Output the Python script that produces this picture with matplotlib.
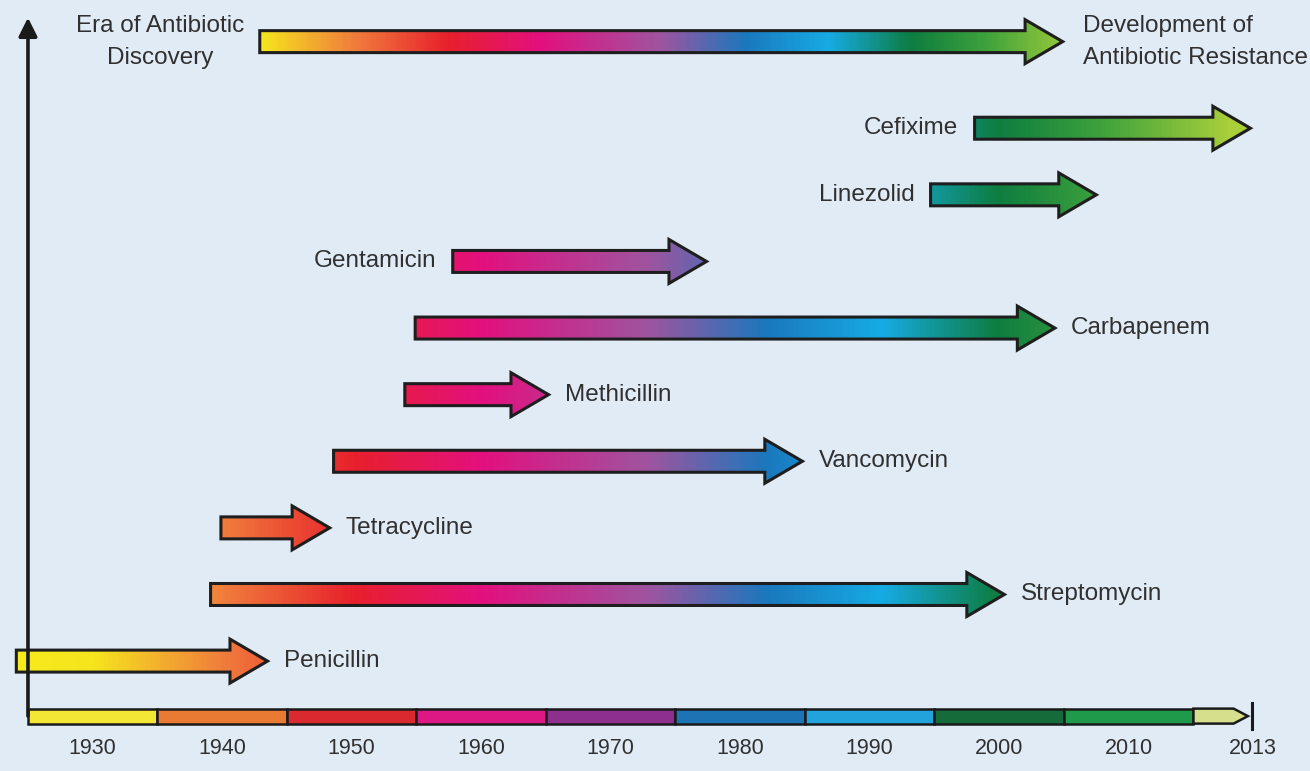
import numpy as np
import matplotlib.pyplot as plt
from matplotlib.patches import Polygon, Rectangle
from matplotlib.colors import LinearSegmentedColormap, Normalize

plt.rcParams['font.family'] = ['Liberation Sans', 'DejaVu Sans']

# antibiotic arrows: start year, resistance year
drugs = ['Penicillin', 'Streptomycin', 'Tetracycline', 'Vancomycin', 'Methicillin',
         'Carbapenem', 'Gentamicin', 'Linezolid', 'Cefixime']
start = [1924.1, 1939.1, 1939.9, 1948.6, 1954.1, 1954.9, 1957.8, 1994.7, 1998.1]
end = [1943.5, 2000.4, 1948.3, 1984.8, 1965.2, 2004.3, 1977.4, 2007.5, 2019.4]
side = ['right', 'right', 'right', 'right', 'right', 'right', 'left', 'left', 'left']

# header arrow
era_start, era_end = 1942.9, 2004.9
era_colors = (1930, 2016)

# timeline
decades = [1930, 1940, 1950, 1960, 1970, 1980, 1990, 2000, 2010]
decade_colors = ['#f3e634', '#e97a33', '#da2a30', '#dd1784', '#8c2f8d',
                 '#1c74b5', '#22a3db', '#156b39', '#1f9a4b']
last_label = '2013'

# year -> colour for the gradients
cmap_years = [1925, 1930, 1940, 1950, 1960, 1973, 1982, 1991, 2000, 2008, 2018]
cmap_cols = ['#f6ea1c', '#f6e41e', '#f07c3c', '#e8202c', '#e3107f', '#9e55a0',
             '#1b78bd', '#16abe4', '#0e7d40', '#3ea23c', '#a9cf3a']
norm = Normalize(cmap_years[0], cmap_years[-1])
cmap = LinearSegmentedColormap.from_list(
    'yr', [(norm(y), c) for y, c in zip(cmap_years, cmap_cols)])

bg = '#e1ebf6'
txt = '#303030'
fs_lab = 17.5
fs_year = 15.5

fig = plt.figure(figsize=(13.1, 7.71), dpi=100, facecolor=bg)
ax = fig.add_axes([0, 0, 1, 1], facecolor=bg)


def grad_arrow(x0, x1, y, c0, c1):
    hl, sh, hh = 2.9, 0.165, 0.33
    xb = x1 - hl
    pts = [(x0, y - sh), (xb, y - sh), (xb, y - hh), (x1, y),
           (xb, y + hh), (xb, y + sh), (x0, y + sh)]
    poly = Polygon(pts, closed=True, fc='none', ec='#1e1e1e', lw=2.2, zorder=3,
                   joinstyle='miter')
    ax.add_patch(poly)
    yrs = np.linspace(c0, c1, 400)
    img = cmap(norm(yrs))[None, :, :]
    im = ax.imshow(img, extent=[x0, x1, y - hh, y + hh], aspect='auto',
                   zorder=2, interpolation='bilinear')
    im.set_clip_path(poly)


gap = 1.25
for i, (d, s, e, sd) in enumerate(zip(drugs, start, end, side)):
    grad_arrow(s, e, i, s, e)
    if sd == 'right':
        ax.text(e + gap, i, d, ha='left', va='center', fontsize=fs_lab, color=txt)
    else:
        ax.text(s - gap, i, d, ha='right', va='center', fontsize=fs_lab, color=txt)

era_row = 9.3
grad_arrow(era_start, era_end, era_row, *era_colors)
ax.text(era_start - 1.2, era_row, 'Era of Antibiotic\nDiscovery', ha='right',
        va='center', multialignment='center', fontsize=fs_lab, color=txt,
        linespacing=1.6)
ax.text(era_end + 1.6, era_row, 'Development of\nAntibiotic Resistance',
        ha='left', va='center', multialignment='left', fontsize=fs_lab, color=txt,
        linespacing=1.6)

# timeline bar
ty, th = -0.826, 0.225
for dec, c in zip(decades, decade_colors):
    ax.add_patch(Rectangle((dec - 5, ty - th / 2), 10, th, fc=c, ec='#1a1a1a',
                           lw=1.8, zorder=3))
    ax.text(dec, -1.31, str(dec), ha='center', va='center', fontsize=fs_year, color=txt)
x_end = decades[-1] + 5
tip = x_end + 4.2
ax.add_patch(Polygon([(x_end, ty - th / 2), (tip - 1.1, ty - th / 2), (tip, ty),
                      (tip - 1.1, ty + th / 2), (x_end, ty + th / 2)],
                     closed=True, fc='#d6df8c', ec='#1a1a1a', lw=1.8, zorder=3))
tick_x = tip + 0.35
ax.plot([tick_x, tick_x], [ty - 0.2, ty + 0.2], color='#1a1a1a', lw=2.2, zorder=3)
ax.text(tick_x, -1.31, last_label, ha='center', va='center', fontsize=fs_year, color=txt)

# vertical axis arrow
ax.annotate('', xy=(1925, 9.66), xytext=(1925, ty),
            arrowprops=dict(arrowstyle='-|>', lw=2.6, color='#1a1a1a',
                            mutation_scale=28, shrinkA=0, shrinkB=0), zorder=4)

ax.set_xlim(1922.84, 2024.0)
ax.set_ylim(-1.65, 9.925)
ax.axis('off')

fig.savefig('out.png', dpi=100, facecolor=bg)
